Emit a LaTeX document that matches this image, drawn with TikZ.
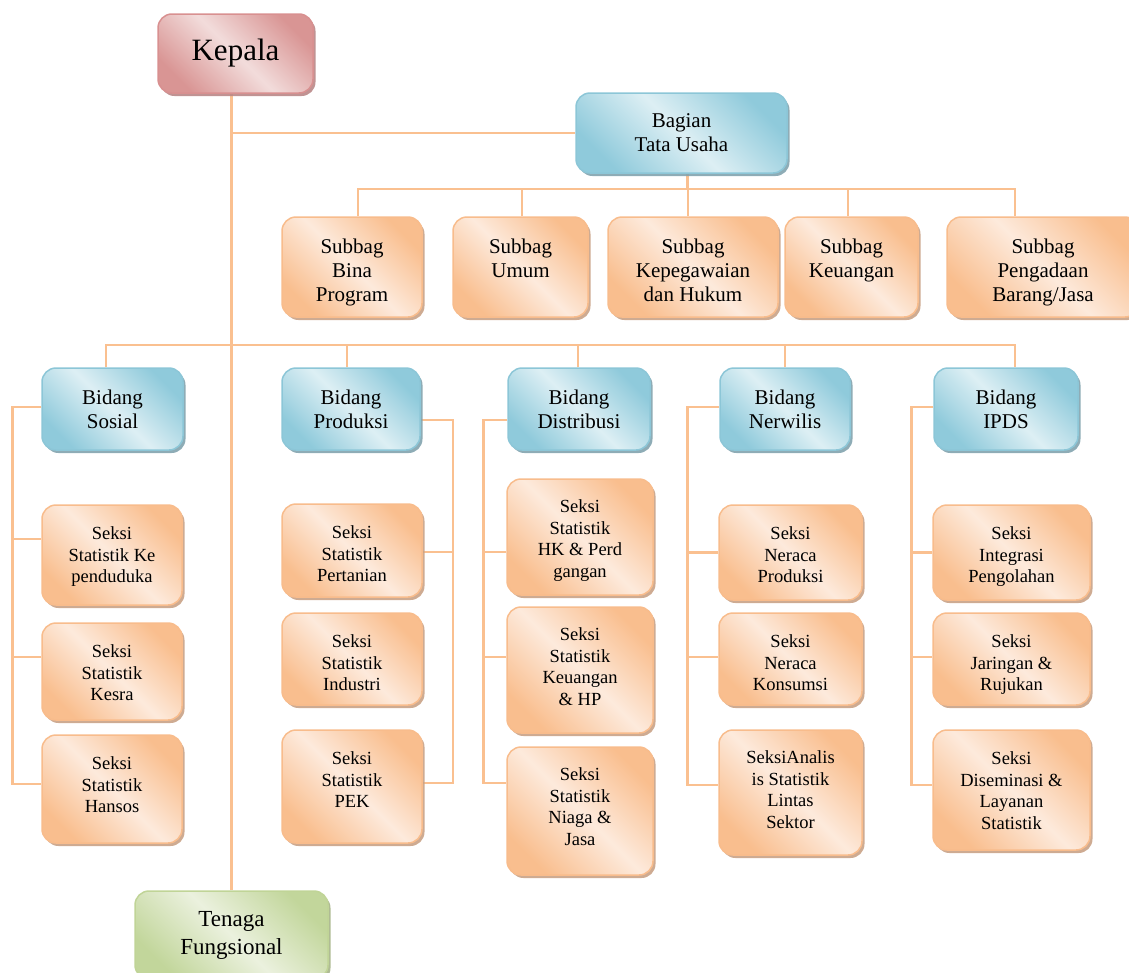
\documentclass[tikz,border=0pt]{standalone}
\usepackage{fontspec}
\setmainfont{Liberation Serif}
\usetikzlibrary{shadows,backgrounds}

\definecolor{oD}{HTML}{F9BE8E}
\definecolor{oL}{HTML}{FDEADC}
\definecolor{oB}{HTML}{F8BC8C}
\definecolor{oS}{HTML}{C9A286}
\definecolor{bD}{HTML}{8FCADB}
\definecolor{bL}{HTML}{DDEFF4}
\definecolor{bB}{HTML}{8CC6D7}
\definecolor{bS}{HTML}{82A3AE}
\definecolor{pD}{HTML}{D99594}
\definecolor{pL}{HTML}{F2DCDB}
\definecolor{pB}{HTML}{D89090}
\definecolor{pS}{HTML}{B98787}
\definecolor{gD}{HTML}{C2D69B}
\definecolor{gL}{HTML}{EBF1DE}
\definecolor{gB}{HTML}{C0D497}
\definecolor{gS}{HTML}{A6B488}
\definecolor{lineC}{HTML}{FAC090}

\tikzset{
  basebox/.style={rounded corners=14pt, line width=1.5pt, inner sep=0pt, align=center},
  orangebox/.style={basebox, draw=oB, top color=oD, bottom color=oD, middle color=oL, shading angle=-45,
    drop shadow={shadow xshift=2.5pt, shadow yshift=-3pt, fill=oS, opacity=.9}},
  bluebox/.style={basebox, draw=bB, top color=bD, bottom color=bD, middle color=bL, shading angle=-45,
    drop shadow={shadow xshift=2.5pt, shadow yshift=-3pt, fill=bS, opacity=.9}},
  pinkbox/.style={basebox, draw=pB, top color=pD, bottom color=pD, middle color=pL, shading angle=-45,
    drop shadow={shadow xshift=2.5pt, shadow yshift=-3pt, fill=pS, opacity=.9}},
  greenbox/.style={basebox, draw=gB, top color=gD, bottom color=gD, middle color=gL, shading angle=-45,
    drop shadow={shadow xshift=2.5pt, shadow yshift=-3pt, fill=gS, opacity=.9}},
  subfont/.style={font=\fontsize{21}{24}\selectfont},
  seksifont/.style={font=\fontsize{18.5}{21.5}\selectfont},
  conn/.style={draw=lineC, line width=2.5pt},
}

% #1 style, #2 name, #3 x1, #4 y1, #5 x2, #6 y2, #7 top pad, #8 text
\newcommand\orgbox[8]{%
  \node[#1, minimum width={(#5-#3)*1pt}, minimum height={(#6-#4)*1pt}] (#2)
    at ({(#3+#5)/2},{(#4+#6)/2})
    {\parbox[c][\dimexpr #6pt-#4pt\relax][t]{\dimexpr #5pt-#3pt-8pt\relax}{\centering\vspace*{#7pt}#8}};}

\begin{document}
\begin{tikzpicture}[x=1pt,y=-1pt]
\useasboundingbox (0,0) rectangle (1129,972);

% top
\node[pinkbox, font=\fontsize{31}{36}\selectfont, minimum width=155pt, minimum height=79pt] (kepala) at (235.5,53.5) {Kepala};
\node[bluebox, subfont, minimum width=211pt, minimum height=80pt] (bagian) at (681.5,133) {Bagian\\Tata Usaha};
\node[greenbox, font=\fontsize{23}{28}\selectfont, minimum width=193pt, minimum height=88pt] (tenaga) at (231.5,935) {Tenaga\\Fungsional};

% subbag
\orgbox{orangebox,subfont}{sb1}{282}{217}{422}{317}{22}{Subbag\\Bina\\Program}
\orgbox{orangebox,subfont}{sb2}{453}{217}{588}{317}{22}{Subbag\\Umum}
\orgbox{orangebox,subfont}{sb3}{608}{217}{778}{317}{22}{Subbag\\Kepegawaian\\dan Hukum}
\orgbox{orangebox,subfont}{sb4}{785}{217}{918}{317}{22}{Subbag\\Keuangan}
\orgbox{orangebox,subfont}{sb5}{947}{217}{1139}{317}{22}{Subbag\\Pengadaan\\Barang/Jasa}

% bidang
\node[bluebox, subfont, minimum width=141pt, minimum height=82pt] (sosial) at (112.5,409) {Bidang\\Sosial};
\node[bluebox, subfont, minimum width=138pt, minimum height=82pt] (produksi) at (351,409) {Bidang\\Produksi};
\node[bluebox, subfont, minimum width=142pt, minimum height=82pt] (distribusi) at (579,409) {Bidang\\Distribusi};
\node[bluebox, subfont, minimum width=130pt, minimum height=82pt] (nerwilis) at (785,409) {Bidang\\Nerwilis};
\node[bluebox, subfont, minimum width=144pt, minimum height=82pt] (ipds) at (1006,409) {Bidang\\IPDS};

% seksi
\orgbox{orangebox,seksifont}{sos1}{42}{505}{182}{605}{22}{Seksi\\Statistik Ke\\penduduka}
\orgbox{orangebox,seksifont}{sos2}{42}{623}{182}{720}{22}{Seksi\\Statistik\\Kesra}
\orgbox{orangebox,seksifont}{sos3}{42}{735}{182}{843}{22}{Seksi\\Statistik\\Hansos}

\orgbox{orangebox,seksifont}{pro1}{282}{504}{422}{597}{22}{Seksi\\Statistik\\Pertanian}
\orgbox{orangebox,seksifont}{pro2}{282}{613}{422}{705}{22}{Seksi\\Statistik\\Industri}
\orgbox{orangebox,seksifont}{pro3}{282}{730}{422}{843}{22}{Seksi\\Statistik\\PEK}

\orgbox{orangebox,seksifont}{dis1}{507}{479}{653}{595}{21}{Seksi\\Statistik\\HK \& Perd\\gangan}
\orgbox{orangebox,seksifont}{dis2}{507}{607}{653}{733}{21}{Seksi\\Statistik\\Keuangan\\\& HP}
\orgbox{orangebox,seksifont}{dis3}{507}{747}{653}{875}{21}{Seksi\\Statistik\\Niaga \&\\Jasa}

\orgbox{orangebox,seksifont}{ner1}{719}{505}{862}{600}{22}{Seksi\\Neraca\\Produksi}
\orgbox{orangebox,seksifont}{ner2}{719}{613}{862}{705}{22}{Seksi\\Neraca\\Konsumsi}
\orgbox{orangebox,seksifont}{ner3}{719}{730}{862}{855}{21}{SeksiAnalis\\is Statistik\\Lintas\\Sektor}

\orgbox{orangebox,seksifont}{ipd1}{933}{505}{1090}{600}{22}{Seksi\\Integrasi\\Pengolahan}
\orgbox{orangebox,seksifont}{ipd2}{933}{613}{1090}{705}{22}{Seksi\\Jaringan \&\\Rujukan}
\orgbox{orangebox,seksifont}{ipd3}{933}{730}{1090}{850}{22}{Seksi\\Diseminasi \&\\Layanan\\Statistik}

\coordinate (subbus) at (0,189);
\coordinate (bidbus) at (0,345);

\begin{scope}[on background layer]
  % Kepala trunk
  \draw[conn] (tenaga.north) -- (tenaga.north |- kepala.south);
  \draw[conn] (tenaga.north |- bagian.west) -- (bagian.west);
  % subbag bus
  \draw[conn] ([xshift=6pt]bagian.south) -- ([xshift=6pt]bagian.south |- subbus);
  \draw[conn] ([xshift=6pt]sb1.north) -- ([xshift=6pt]sb1.north |- subbus) -- ([xshift=-28pt]sb5.north |- subbus) -- ([xshift=-28pt]sb5.north);
  \draw[conn] ([xshift=1.5pt]sb2.north) -- ([xshift=1.5pt]sb2.north |- subbus);
  \draw[conn] ([xshift=-5pt]sb3.north) -- ([xshift=-5pt]sb3.north |- subbus);
  \draw[conn] ([xshift=-3.5pt]sb4.north) -- ([xshift=-3.5pt]sb4.north |- subbus);
  % bidang bus
  \draw[conn] ([xshift=-6.5pt]sosial.north) -- ([xshift=-6.5pt]sosial.north |- bidbus) -- ([xshift=9pt]ipds.north |- bidbus) -- ([xshift=9pt]ipds.north);
  \draw[conn] ([xshift=-4pt]produksi.north) -- ([xshift=-4pt]produksi.north |- bidbus);
  \draw[conn] ([xshift=-1pt]distribusi.north) -- ([xshift=-1pt]distribusi.north |- bidbus);
  \draw[conn] (nerwilis.north) -- (nerwilis.north |- bidbus);
  % Sosial
  \draw[conn] ([yshift=2pt]sosial.west) -- ++(-29,0) |- ([yshift=5pt]sos3.west);
  \draw[conn] ([yshift=16pt]sos1.west) -- ++(-29,0);
  \draw[conn] ([yshift=14.5pt]sos2.west) -- ++(-29,0);
  % Produksi
  \draw[conn] ([yshift=-11pt]produksi.east) -- ++(32,0) |- ([yshift=3.5pt]pro3.east);
  \draw[conn] ([yshift=-1.5pt]pro1.east) -- ++(30,0);
  % Distribusi
  \draw[conn] ([yshift=-11pt]distribusi.west) -- ++(-24,0) |- ([yshift=28pt]dis3.west);
  \draw[conn] ([yshift=-15pt]dis1.west) -- ++(-23,0);
  \draw[conn] ([yshift=13pt]dis2.west) -- ++(-23,0);
  % Nerwilis
  \draw[conn] ([yshift=2pt]nerwilis.west) -- ++(-32,0) |- ([yshift=7.5pt]ner3.west);
  \draw[conn] (ner1.west) -- ++(-31,0);
  \draw[conn] ([yshift=2pt]ner2.west) -- ++(-31,0);
  % IPDS
  \draw[conn] ([yshift=2pt]ipds.west) -- ++(-22,0) |- ([yshift=5pt]ipd3.west);
  \draw[conn] (ipd1.west) -- ++(-21,0);
  \draw[conn] ([yshift=2pt]ipd2.west) -- ++(-21,0);
\end{scope}
\end{tikzpicture}
\end{document}
